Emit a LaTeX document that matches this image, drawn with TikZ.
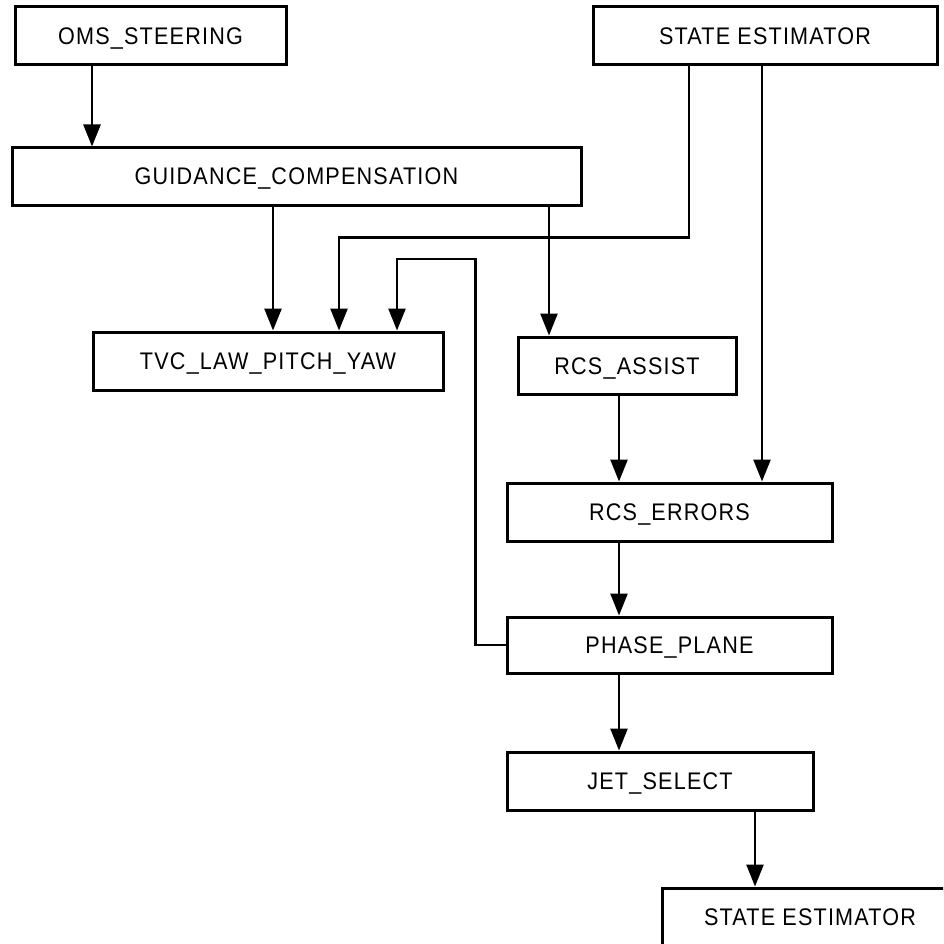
\documentclass[tikz,border=0pt]{standalone}
\usepackage{fontspec}
\setmainfont{Liberation Sans}[LetterSpace=5, FakeStretch=0.9]
\usetikzlibrary{arrows.meta}
\begin{document}
\begin{tikzpicture}[x=1pt,y=-1pt]

      \tikzset{block/.style={draw, rectangle, line width=3pt, inner sep=0pt, minimum height=58, text height=17pt, text depth=0pt, font=\fontsize{24}{28}\selectfont},
               flow/.style={line width=2.6pt, -{Triangle[length=22pt,width=17pt]}}}
      \useasboundingbox (0,0) rectangle (943,944);
      \clip (0,0) rectangle (943,944);
% Blocks
      	\node[block, minimum width=271] (oms) at (150.5,36) {OMS\_STEERING};
      	\node[block, minimum width=344] (se1) at (765,36) {STATE ESTIMATOR};
    	\node[block, minimum width=569, minimum height=57] (gc) at (296.5,176.5) {GUIDANCE\_COMPENSATION};
  	    \node[block, minimum width=350] (tvc) at (268,361) {TVC\_LAW\_PITCH\_YAW};
  	    \node[block, minimum width=218, minimum height=57] (rcsa) at (627,365.5) {RCS\_ASSIST};
  	    \node[block, minimum width=325] (rcse) at (669.5,512) {RCS\_ERRORS};
  	    \node[block, minimum width=325, minimum height=56] (pp) at (669.5,645) {PHASE\_PLANE};
  	    \node[block, minimum width=306] (jet) at (660,781) {JET\_SELECT};
  	    \node[block, minimum width=296] (se2) at (810,917) {STATE ESTIMATOR};
%Edges
		\draw[flow] ([xshift=-58.5]oms.south) -- ([xshift=-58.5]oms.south |- gc.north);
		\draw[flow] ([xshift=-23.5]gc.south) -- ([xshift=-23.5]gc.south |- tvc.north);
		\draw[flow] ([xshift=-76]se1.south) -- ++(0,171) -| ([xshift=71]tvc.north);
		\draw[flow] (pp.west) -| ++(-30,-386) -| ([xshift=129]tvc.north);
		\draw[flow] ([xshift=252.5]gc.south) -- ([xshift=252.5]gc.south |- rcsa.north);
		\draw[flow] ([xshift=-8]rcsa.south) -- ([xshift=-8]rcsa.south |- rcse.north);
		\draw[flow] ([xshift=-3]se1.south) -- ([xshift=-3]se1.south |- rcse.north);
		\draw[flow] ([xshift=-50.5]rcse.south) -- ([xshift=-50.5]rcse.south |- pp.north);
		\draw[flow] ([xshift=-50.5]pp.south) -- ([xshift=-50.5]pp.south |- jet.north);
		\draw[flow] ([xshift=95]jet.south) -- ([xshift=95]jet.south |- se2.north);

\end{tikzpicture}
\end{document}
